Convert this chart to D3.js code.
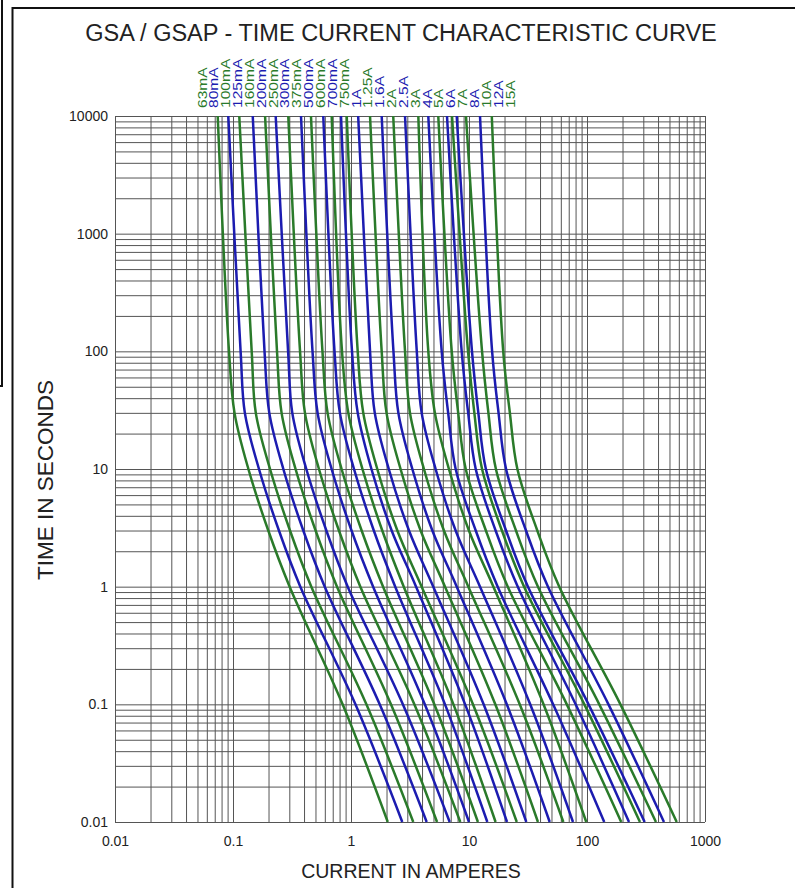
<!DOCTYPE html>
<html>
<head>
<meta charset="UTF-8">
<title>GSA / GSAP - Time Current Characteristic Curve</title>
<script src="https://d3js.org/d3.v7.min.js"></script>
<style>
  body { margin: 0; background: #fff; }
  svg { display: block; font-family: "Liberation Sans", Arial, Helvetica, sans-serif; }
</style>
</head>
<body>
<svg width="795" height="888"></svg>
<script>
// fuse ratings, left to right
const ratings = ["63mA", "80mA", "100mA", "125mA", "160mA", "200mA", "250mA", "300mA", "375mA",
  "500mA", "600mA", "700mA", "750mA", "1A", "1.25A", "1.6A", "2A", "2.5A", "3A", "4A", "5A",
  "6A", "7A", "8A", "10A", "12A", "15A"];

// time points (s) where each curve was read
const times = [10000, 100, 30, 10, 3, 1, 0.1, 0.01];

// current (A) of each curve at those times
const currents = [
  [0.0742, 0.0925, 0.103, 0.135, 0.199, 0.302, 0.849, 2.05],  // 63mA
  [0.0912, 0.116, 0.126, 0.166, 0.245, 0.372, 1.09, 2.72],    // 80mA
  [0.113, 0.144, 0.156, 0.206, 0.304, 0.461, 1.35, 3.37],     // 100mA
  [0.147, 0.185, 0.203, 0.267, 0.394, 0.599, 1.75, 4.38],     // 125mA
  [0.187, 0.236, 0.258, 0.339, 0.501, 0.761, 2.18, 5.36],     // 160mA
  [0.230, 0.293, 0.318, 0.418, 0.618, 0.938, 2.75, 6.86],     // 200mA
  [0.294, 0.370, 0.407, 0.535, 0.790, 1.20, 3.44, 8.44],      // 250mA
  [0.377, 0.472, 0.521, 0.685, 1.01, 1.54, 4.22, 10.0],       // 300mA
  [0.458, 0.573, 0.633, 0.832, 1.23, 1.87, 5.08, 11.9],       // 375mA
  [0.582, 0.725, 0.805, 1.06, 1.56, 2.37, 6.26, 14.3],        // 500mA
  [0.686, 0.839, 0.949, 1.25, 1.84, 2.80, 7.38, 16.8],        // 600mA
  [0.823, 1.02, 1.14, 1.49, 2.21, 3.56, 9.27, 21.0],          // 700mA
  [0.920, 1.14, 1.27, 1.67, 2.47, 3.97, 10.8, 25.4],          // 750mA
  [1.15, 1.45, 1.59, 2.09, 3.10, 4.98, 13.3, 30.6],           // 1A
  [1.45, 1.82, 2.00, 2.63, 3.89, 6.26, 16.7, 38.4],           // 1.25A
  [1.82, 2.29, 2.52, 3.31, 4.89, 7.87, 20.9, 48.3],           // 1.6A
  [2.28, 2.87, 3.16, 4.15, 6.13, 9.87, 26.9, 63.0],           // 2A
  [2.87, 3.61, 3.97, 5.21, 7.70, 12.4, 33.0, 76.1],           // 2.5A
  [3.72, 4.52, 5.14, 6.76, 9.98, 16.1, 42.8, 98.6],           // 3A
  [4.52, 5.87, 6.66, 7.71, 11.4, 17.5, 51.6, 140],            // 4A
  [5.49, 7.14, 8.10, 9.38, 13.9, 21.3, 67.4, 195],            // 5A
  [6.51, 8.67, 9.84, 11.4, 16.8, 25.9, 80.1, 227],            // 6A
  [7.18, 9.81, 11.1, 12.9, 19.0, 29.3, 94.9, 281],            // 7A
  [7.87, 10.6, 12.0, 13.9, 20.6, 31.6, 103, 308],             // 8A
  [9.43, 12.9, 14.6, 16.9, 25.0, 38.4, 127, 384],             // 10A
  [12.4, 15.7, 17.8, 20.6, 30.4, 46.7, 152, 449],             // 12A
  [15.6, 19.5, 22.2, 25.7, 37.9, 58.2, 192, 576]              // 15A
];

const xTicks = [0.01, 0.1, 1, 10, 100, 1000];
const yTicks = [10000, 1000, 100, 10, 1, 0.1, 0.01];

const colors = ["#2a7a2a", "#1c1cb0"];   // alternating green / blue

const svg = d3.select("svg");
const plotL = 115, plotR = 705, plotT = 116, plotB = 822;

const x = d3.scaleLog().domain([0.01, 1000]).range([plotL, plotR]);
const y = d3.scaleLog().domain([10000, 0.01]).range([plotT, plotB]);

// page frame
svg.append("rect").attr("x", -20).attr("y", -20).attr("width", 22).attr("height", 406)
  .attr("fill", "none").attr("stroke", "#111").attr("stroke-width", 2);
svg.append("path").attr("d", "M12.5,900 V8 H800")
  .attr("fill", "none").attr("stroke", "#111").attr("stroke-width", 2);

// title
svg.append("text").attr("x", 401).attr("y", 41).attr("text-anchor", "middle")
  .attr("font-size", 23.5).attr("fill", "#222")
  .text("GSA / GSAP - TIME CURRENT CHARACTERISTIC CURVE");

// grid
const grid = svg.append("g").attr("class", "grid");
grid.append("g").attr("transform", `translate(0,${plotB})`)
  .call(d3.axisBottom(x).tickValues(x.ticks()).tickSize(-(plotB - plotT)).tickFormat(""));
grid.append("g").attr("transform", `translate(${plotL},0)`)
  .call(d3.axisLeft(y).tickValues(y.ticks()).tickSize(-(plotR - plotL)).tickFormat(""));
grid.selectAll(".domain").remove();
grid.selectAll("line").attr("stroke", "#555").attr("stroke-width", 1);

// tick labels
const xAxis = svg.append("g").attr("transform", `translate(0,${plotB})`)
  .call(d3.axisBottom(x).tickValues(xTicks).tickSize(0).tickPadding(14).tickFormat(d => String(d)));
const yAxis = svg.append("g").attr("transform", `translate(${plotL},0)`)
  .call(d3.axisLeft(y).tickValues(yTicks).tickSize(0).tickPadding(7).tickFormat(d => String(d)));
[xAxis, yAxis].forEach(a => {
  a.select(".domain").remove();
  a.selectAll("text").attr("font-size", 14).attr("fill", "#222")
    .attr("font-family", "'Liberation Sans', Arial, sans-serif");
});

// axis titles
svg.append("text").attr("x", 411).attr("y", 878).attr("text-anchor", "middle")
  .attr("font-size", 19.5).attr("fill", "#222").text("CURRENT IN AMPERES");
svg.append("text").attr("transform", "translate(53,480) rotate(-90)")
  .attr("text-anchor", "middle").attr("font-size", 22.5).attr("fill", "#222")
  .text("TIME IN SECONDS");

// curves
const line = d3.line()
  .x(d => x(d.i))
  .y(d => y(d.t))
  .curve(d3.curveCatmullRom.alpha(0.5));

svg.append("g").selectAll("path")
  .data(currents)
  .enter().append("path")
  .attr("d", row => line(times.map((t, j) => ({ t: t, i: row[j] }))))
  .attr("fill", "none")
  .attr("stroke", (d, k) => colors[k % 2])
  .attr("stroke-width", 2.5);

// rating labels above the grid
const lx = d3.scalePoint().domain(ratings).range([202, 510]);
svg.append("g").selectAll("text")
  .data(ratings)
  .enter().append("text")
  .attr("transform", d => `translate(${lx(d) + 4.5},108) rotate(-90) scale(1.25,1)`)
  .attr("font-size", 12.5)
  .attr("fill", (d, k) => colors[k % 2])
  .text(d => d);
</script>
</body>
</html>
